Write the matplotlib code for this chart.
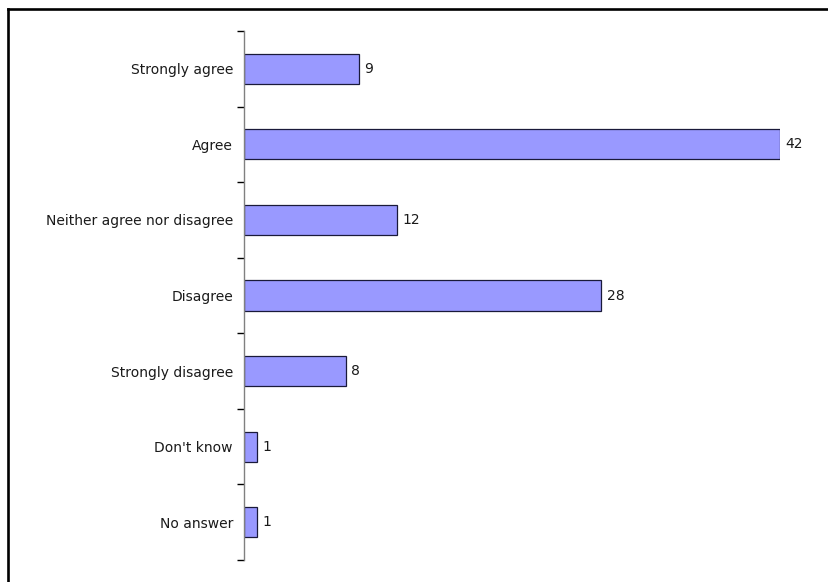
import matplotlib.pyplot as plt
import numpy as np
from matplotlib.lines import Line2D

# Data
categorias = ["Strongly agree", "Agree", "Neither agree nor disagree", "Disagree",
              "Strongly disagree", "Don't know", "No answer"]
valores = [9, 42, 12, 28, 8, 1, 1]

W, H = 829, 582
fig = plt.figure(figsize=(W / 100, H / 100), dpi=100)
ax = fig.add_axes([244 / W, 1 - 560 / H, (780 - 244) / W, (560 - 31) / H])

pos = np.arange(len(categorias))
ax.barh(pos, valores, height=0.4, color="#9999ff", edgecolor="#1a1a3a", linewidth=0.9)
ax.set_ylim(len(categorias) - 0.5, -0.5)
ax.set_xlim(0, 42)

# labels at the centres, ticks on the boundaries
ax.set_yticks(pos)
ax.set_yticklabels(categorias, fontsize=10, color="#1a1a1a")
ax.tick_params(axis="y", which="major", length=0, pad=8)
ax.set_yticks(np.arange(len(categorias) + 1) - 0.5, minor=True)
ax.tick_params(axis="y", which="minor", length=5, width=1, color="black")
ax.set_xticks([])

for s in ["top", "right", "bottom"]:
    ax.spines[s].set_visible(False)
ax.spines["left"].set_color("#808080")
ax.spines["left"].set_linewidth(1)

for y, v in zip(pos, valores):
    ax.text(v + 0.42, y, str(v), va="center", ha="left", fontsize=10,
            color="#1a1a1a", clip_on=False)

# chart frame (top and left)
fig.add_artist(Line2D([8 / W, 1], [1 - 9 / H, 1 - 9 / H], color="black", linewidth=1.9,
                      transform=fig.transFigure))
fig.add_artist(Line2D([8 / W, 8 / W], [0, 1 - 9 / H], color="black", linewidth=1.9,
                      transform=fig.transFigure))

fig.savefig("out.png", dpi=100)
